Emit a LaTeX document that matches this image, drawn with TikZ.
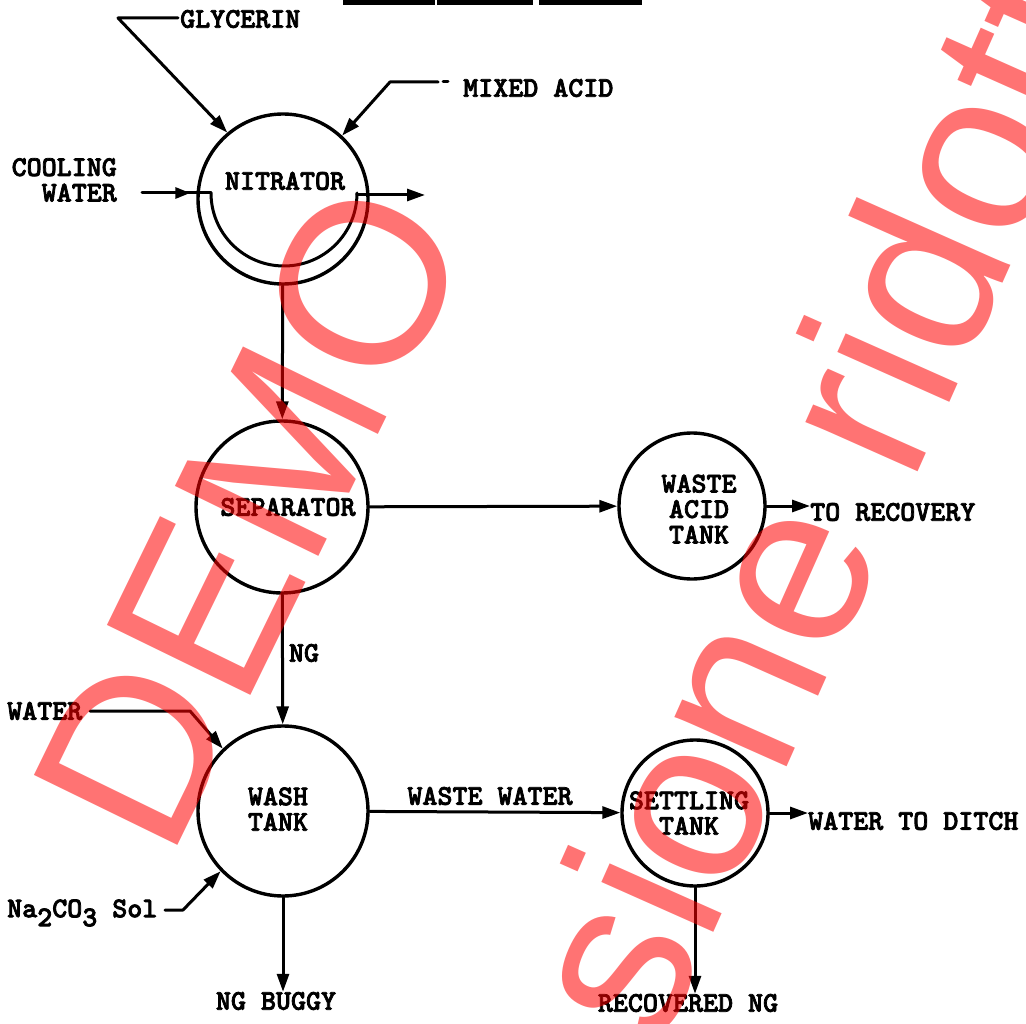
\documentclass[tikz,border=0pt]{standalone}
\usepackage{fontspec}
\newfontfamily\wmfont{Liberation Sans}
\newfontfamily\tw{lmmonolt10-bold.otf}[FakeBold=2.6]
\usetikzlibrary{arrows.meta,decorations.markings,calc}
\tikzset{
  ln/.style={line width=3pt, line cap=round, line join=round},
  arr/.style={ln, -{Triangle[length=18pt,width=12pt]}},
  midarr/.style={ln, postaction={decorate}, decoration={markings, mark=at position #1 with {\arrow{Triangle[length=15pt,width=11pt]}}}},
  tank/.style={circle, draw, line width=3.4pt, inner sep=0pt, minimum size=#1},
  lbl/.style={font=\tw\fontsize{28.6}{25.5}\selectfont, inner sep=0pt, align=center},
  wm/.style={font=\wmfont\fontsize{232}{232}\selectfont, text=red, text opacity=0.55, inner sep=0pt},
  bar/.style={fill=black}
}
\begin{document}
\begin{tikzpicture}[x=1pt,y=-1pt]
\useasboundingbox (0,0) rectangle (1026,1024);
% title underline (cut off)
\fill[bar] (343,0) rectangle (435,5);
\fill[bar] (437,0) rectangle (533,5);
\fill[bar] (539,0) rectangle (642,5);
% vessels
\node[tank=170pt] (nit) at (283,199) {};
\node[tank=172pt] (sep) at (282,507) {};
\node[tank=146pt] (wat) at (692,506) {};
\node[tank=170pt] (wash) at (283,811) {};
\node[tank=146pt] (set) at (695,813) {};
% vessel labels
\node[lbl] (nitT) at (285,181) {NITRATOR};
\node[lbl] (sepT) at (288,507) {SEPARATOR};
\node[lbl] (watT) at (699,509) {WASTE\\ACID\\TANK};
\node[lbl] (washT) at (278,809) {WASH\\TANK};
\node[lbl] (setT) at (689,813) {SETTLING\\TANK};
% stream labels
\node[lbl, anchor=west] (gly) at (180,19) {GLYCERIN};
\node[lbl, anchor=west] (mix) at (463,88) {MIXED ACID};
\node[lbl, anchor=east, align=right] (cool) at (117,180) {COOLING\\WATER};
\node[lbl, anchor=west] (rec) at (810,512) {TO RECOVERY};
\node[lbl] (ng) at (304,653) {NG};
\node[lbl, anchor=west] (water) at (7,711) {WATER};
\node[lbl, anchor=west] (soda) at (7,913) {Na\raisebox{-9pt}{2}CO\raisebox{-9pt}{3} Sol};
\node[lbl] (buggy) at (276,1001) {NG BUGGY};
\node[lbl] (ww) at (490,796) {WASTE WATER};
\node[lbl, anchor=west] (ditch) at (808,821) {WATER TO DITCH};
\node[lbl] (recng) at (688,1003) {RECOVERED NG};
% helper points
\coordinate (g1) at (118,18);
\coordinate (m0) at (438,82);
\coordinate (m1) at (390,82);
\coordinate (c0) at (142,193);
\coordinate (c1) at (211,193);
\coordinate (j1) at (357,195);
\coordinate (jout) at (425,195);
\coordinate (w0) at (90,711);
\coordinate (w1) at (190,711);
\coordinate (s0) at (165,910);
\coordinate (s1) at (183,910);
\coordinate (d0) at (443,82);
\coordinate (d1) at (448,82);
% connectors
\draw[arr] ($(gly.west)+(-2,-1)$) -- (g1) -- (nit.130);
\draw[arr] (m0) -- (m1) -- (nit.47);
\draw[ln] (d0) -- (d1);
\draw[midarr=0.7] (c0) -- (c1);
\draw[ln] (c1) arc[start angle=180, end angle=0, radius=73];
\draw[arr] (j1) -- (jout);
\draw[arr] (nit) -- (sep);
\draw[arr] (sep) -- (wat);
\draw[arr] (wat.east) -- (wat.east -| rec.west);
\draw[arr] (sep) -- (wash);
\draw[arr] (w0) -- (w1) -- (wash.134);
\draw[arr] (s0) -- (s1) -- (wash.224);
\draw[arr] (wash.south) -- (wash.south |- buggy.north);
\draw[arr] (wash) -- (set);
\draw[arr] (set.east) -- (set.east -| ditch.west);
\draw[arr] (set.south) -- (set.south |- recng.north);
% watermark
\begin{scope}
\clip (0,0) rectangle (1026,1024);
\node[wm, rotate=64] (wm1) at (250,515) {DEMO};
\node[wm, rotate=66] (wm2) at (815,500) {sione ridott};
\end{scope}
\end{tikzpicture}
\end{document}
